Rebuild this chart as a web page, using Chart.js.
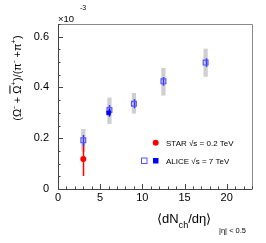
<!DOCTYPE html>
<html>
<head>
<meta charset="utf-8">
<script src="https://cdn.jsdelivr.net/npm/chart.js@4"></script>
<style>
  html, body { margin: 0; padding: 0; background: #fff; }
  #wrap { width: 266px; height: 243px; }
</style>
</head>
<body>
<div id="wrap"><canvas id="myChart" width="266" height="243"></canvas></div>
<script>
// ALICE pp 7 TeV, open squares
var aliceX = [3.0, 6.1, 9.0, 12.5, 17.5];
var aliceY = [0.192, 0.311, 0.336, 0.424, 0.498];
var aliceStat = [0.021, 0.02, 0.018, 0.017, 0.017];
var aliceSysLow = [0.147, 0.256, 0.297, 0.368, 0.442];
var aliceSysHigh = [0.236, 0.360, 0.378, 0.477, 0.553];
// ALICE filled square (MB)
var aliceMbX = [6.0];
var aliceMbY = [0.300];
var aliceMbStat = [0.015];
// STAR 0.2 TeV
var starX = [3.0];
var starY = [0.118];
var starLow = [0.051];
var starHigh = [0.180];

var xTicks = [0, 5, 10, 15, 20];
var yTicks = [0, 0.2, 0.4, 0.6];

const FONT = "'Liberation Sans', Arial, sans-serif";

function pts(xs, ys) {
    return xs.map(function (x, i) { return {x: x, y: ys[i]}; });
}

function drawRich(ctx, parts, x, y, size) {
    // parts: [text, mode] mode: 0 normal, 1 sup, -1 sub, 2 bar
    var cx = x;
    parts.forEach(function (p) {
        var s = p[1] === 1 || p[1] === -1 ? size * 0.7 : size;
        ctx.font = s + "px " + FONT;
        var dy = p[1] === 1 ? -size * 0.45 : (p[1] === -1 ? size * 0.35 : 0);
        ctx.fillText(p[0], cx, y + dy);
        var w = ctx.measureText(p[0]).width;
        if (p[1] === 2) {
            ctx.fillRect(cx, y - size * 1.05, w, 1);
        }
        cx += w;
    });
    return cx - x;
}

function richWidth(ctx, parts, size) {
    var w = 0;
    parts.forEach(function (p) {
        var s = p[1] === 1 || p[1] === -1 ? size * 0.7 : size;
        ctx.font = s + "px " + FONT;
        w += ctx.measureText(p[0]).width;
    });
    return w;
}

const decorPlugin = {
    id: "decor",
    beforeDatasetsDraw: function (chart) {
        const ctx = chart.ctx;
        const xs = chart.scales.x, ys = chart.scales.y;
        ctx.save();
        // systematic boxes
        ctx.fillStyle = "#cfcfcf";
        aliceX.forEach(function (x, i) {
            var l = xs.getPixelForValue(x - 0.25), r = xs.getPixelForValue(x + 0.25);
            var t = ys.getPixelForValue(aliceSysHigh[i]), b = ys.getPixelForValue(aliceSysLow[i]);
            ctx.fillRect(l, t, r - l, b - t);
        });
        // stat bars
        ctx.lineWidth = 1.5;
        ctx.strokeStyle = "#ff0000";
        starX.forEach(function (x, i) {
            var px = Math.round(xs.getPixelForValue(x)) + 0.5;
            ctx.beginPath();
            ctx.moveTo(px, ys.getPixelForValue(starLow[i]));
            ctx.lineTo(px, ys.getPixelForValue(starHigh[i]));
            ctx.stroke();
        });
        ctx.strokeStyle = "#3333ff";
        aliceX.forEach(function (x, i) {
            var px = Math.round(xs.getPixelForValue(x)) + 0.5;
            ctx.beginPath();
            ctx.moveTo(px, ys.getPixelForValue(aliceY[i] - aliceStat[i]));
            ctx.lineTo(px, ys.getPixelForValue(aliceY[i] + aliceStat[i]));
            ctx.stroke();
        });
        ctx.strokeStyle = "#0000ff";
        aliceMbX.forEach(function (x, i) {
            var px = Math.round(xs.getPixelForValue(x)) + 0.5;
            ctx.beginPath();
            ctx.moveTo(px, ys.getPixelForValue(aliceMbY[i] - aliceMbStat[i]));
            ctx.lineTo(px, ys.getPixelForValue(aliceMbY[i] + aliceMbStat[i]));
            ctx.stroke();
        });
        ctx.restore();
    },
    afterDraw: function (chart) {
        const ctx = chart.ctx;
        const a = chart.chartArea;
        const xs = chart.scales.x, ys = chart.scales.y;
        ctx.save();
        // frame
        ctx.lineWidth = 1;
        ctx.strokeStyle = "#888";
        ctx.beginPath();
        ctx.moveTo(a.left, a.top + 0.5);
        ctx.lineTo(a.right + 0.5, a.top + 0.5);
        ctx.lineTo(a.right + 0.5, a.bottom);
        ctx.stroke();
        ctx.strokeStyle = "#444";
        ctx.beginPath();
        ctx.moveTo(a.left + 0.5, a.top);
        ctx.lineTo(a.left + 0.5, a.bottom + 0.5);
        ctx.lineTo(a.right + 0.5, a.bottom + 0.5);
        ctx.stroke();
        // ticks pointing inside
        ctx.strokeStyle = "#444";
        ctx.beginPath();
        for (var v = 0; v <= 23.001; v += 1) {
            var px = Math.round(xs.getPixelForValue(v)) + 0.5;
            var len = (Math.round(v) % 5 === 0) ? 5 : 2.5;
            ctx.moveTo(px, a.bottom);
            ctx.lineTo(px, a.bottom - len);
        }
        for (var k = 0; k <= 13; k++) {
            var py = Math.round(ys.getPixelForValue(k * 0.05)) + 0.5;
            var l2 = (k % 4 === 0) ? 5 : 2.5;
            ctx.moveTo(a.left, py);
            ctx.lineTo(a.left + l2, py);
        }
        ctx.stroke();

        ctx.fillStyle = "#000";
        ctx.textBaseline = "alphabetic";
        ctx.textAlign = "left";
        // x10^-3
        ctx.font = "9.5px " + FONT;
        ctx.fillText("\u00d710", a.left, 21.5);
        ctx.font = "7px " + FONT;
        ctx.fillText("-3", a.left + 22, 9.5);

        // x title
        var xt = [["\u27e8dN", 0], ["ch", -1], ["/d\u03b7\u27e9", 0]];
        drawRich(ctx, xt, 157, 223, 13);
        ctx.font = "7.5px " + FONT;
        ctx.fillText("|\u03b7| < 0.5", 219, 233);

        // y title, rotated
        var yt = [["(\u03a9", 0], ["-", 1], [" + ", 0], ["\u03a9", 2], ["+", 1], [")/(\u03c0", 0], ["-", 1], [" +\u03c0", 0], ["+", 1], [")", 0]];
        ctx.save();
        ctx.translate(21, 78);
        ctx.rotate(-Math.PI / 2);
        var w = richWidth(ctx, yt, 11);
        drawRich(ctx, yt, -w / 2, 0, 11);
        ctx.restore();

        // legend
        ctx.font = "8px " + FONT;
        ctx.fillStyle = "#ff0000";
        ctx.beginPath();
        ctx.arc(155.7, 142.7, 3, 0, Math.PI * 2);
        ctx.fill();
        ctx.fillStyle = "#0000ff";
        ctx.fillRect(153, 158, 5.5, 5.5);
        ctx.strokeStyle = "#5555ff";
        ctx.lineWidth = 1;
        ctx.strokeRect(141.5, 158, 5.5, 5.5);
        ctx.fillStyle = "#000";
        ctx.fillText("STAR \u221as = 0.2 TeV", 166, 145.5);
        ctx.fillText("ALICE \u221as = 7 TeV", 166, 163.5);
        ctx.restore();
    }
};

new Chart("myChart", {
    type: "scatter",
    data: {
        datasets: [{
            data: pts(starX, starY),
            pointStyle: "circle",
            pointRadius: 3,
            backgroundColor: "#ff0000",
            borderColor: "#ff0000",
            borderWidth: 0
        }, {
            data: pts(aliceMbX, aliceMbY),
            pointStyle: "rect",
            pointRadius: 3.2,
            backgroundColor: "#0000ff",
            borderColor: "#0000ff",
            borderWidth: 0
        }, {
            data: pts(aliceX, aliceY),
            pointStyle: "rect",
            pointRadius: 3.4,
            backgroundColor: "rgba(0,0,0,0)",
            borderColor: "#5555ff",
            borderWidth: 1.2
        }]
    },
    options: {
        responsive: false,
        animation: false,
        events: [],
        layout: {padding: {top: 24, right: 14, bottom: 0, left: 0}},
        plugins: {legend: {display: false}, tooltip: {enabled: false}},
        scales: {
            x: {
                type: "linear",
                min: 0,
                max: 23,
                afterFit: function (s) { s.height = 54; },
                afterBuildTicks: function (s) {
                    s.ticks = xTicks.map(function (v) { return {value: v}; });
                },
                grid: {display: false, drawTicks: false, tickLength: 0},
                border: {display: false},
                ticks: {
                    padding: 2,
                    maxRotation: 0,
                    autoSkip: false,
                    color: "#000",
                    font: {family: FONT, size: 11},
                    callback: function (v) { return String(v); }
                }
            },
            y: {
                type: "linear",
                min: 0,
                max: 0.65,
                afterFit: function (s) { s.width = 58; },
                afterBuildTicks: function (s) {
                    s.ticks = yTicks.map(function (v) { return {value: v}; });
                },
                grid: {display: false, drawTicks: false, tickLength: 0},
                border: {display: false},
                ticks: {
                    padding: 9,
                    color: "#000",
                    font: {family: FONT, size: 11},
                    callback: function (v) { return v === 0 ? "0" : v.toFixed(1); }
                }
            }
        }
    },
    plugins: [decorPlugin]
});
</script>
</body>
</html>
